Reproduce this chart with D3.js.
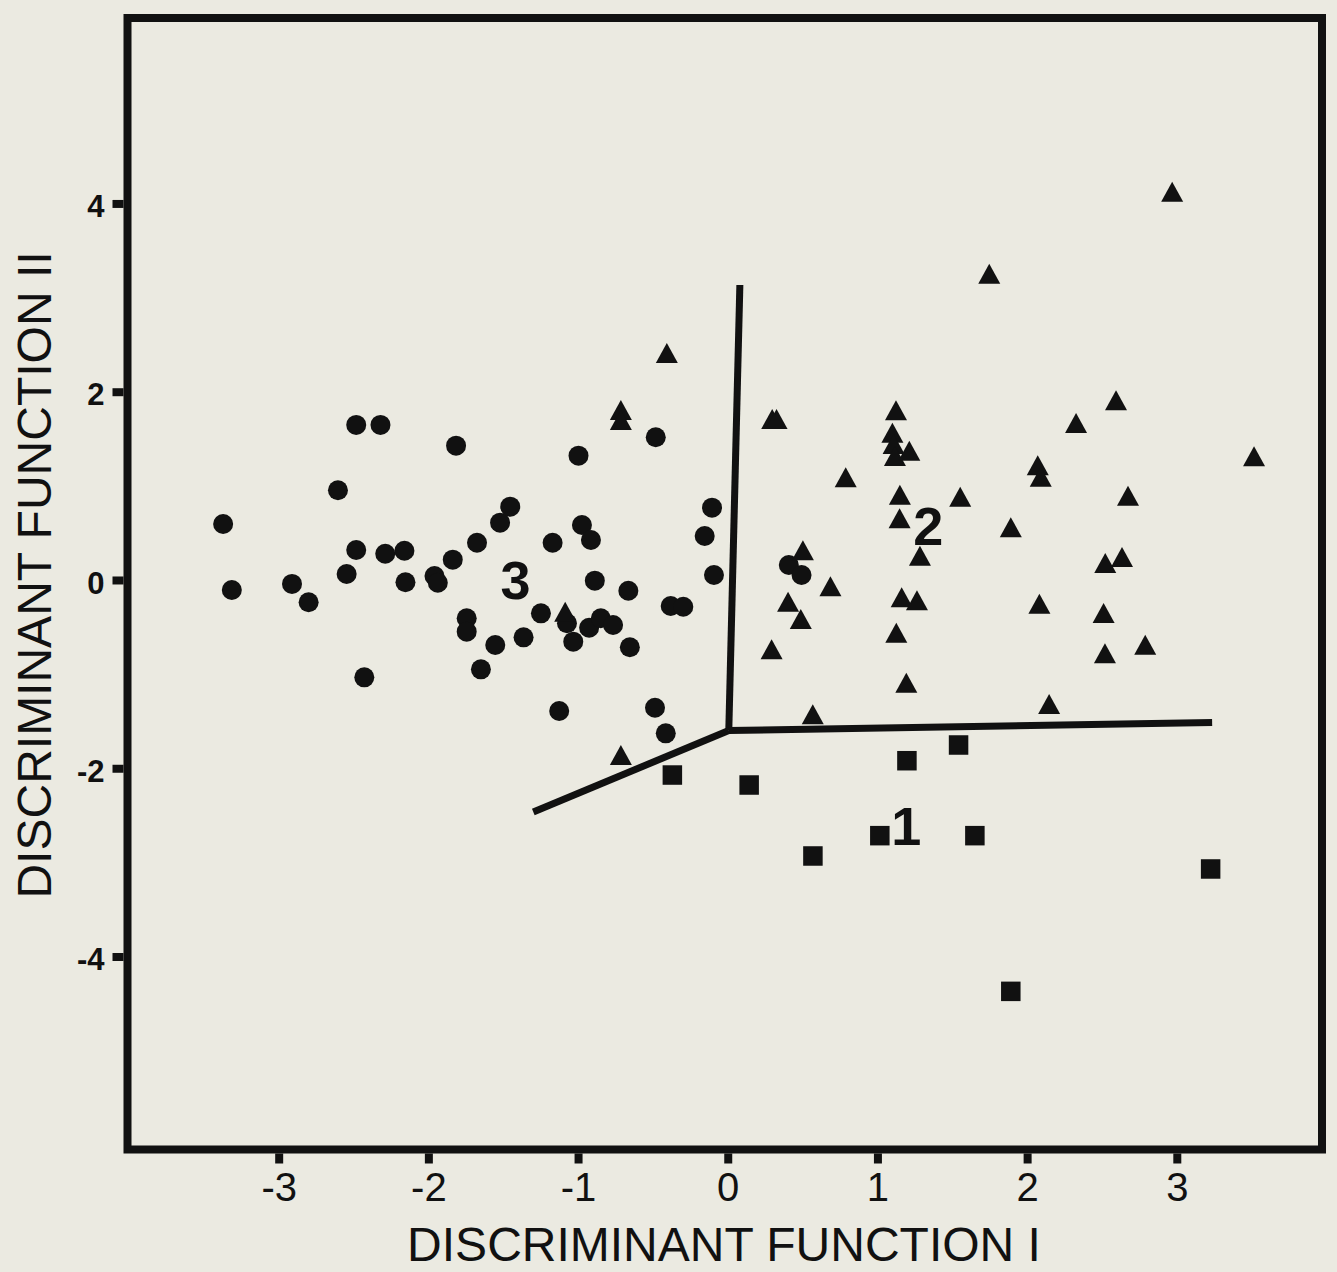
<!DOCTYPE html>
<html>
<head>
<meta charset="utf-8">
<script src="https://cdn.jsdelivr.net/npm/d3@7"></script>
<style>
    body { margin: 0; background: #ebeae1; }
    svg { display: block; }
    text { font-family: "Liberation Sans", Arial, Helvetica, sans-serif; fill: #111; }
</style>
</head>
<body>
<div id="chart"></div>
<script>
// Group 3 (circles) - [function I, function II]
const group3 = [
    [-3.371, 0.595], [-3.313, -0.106], [-2.911, -0.042], [-2.800, -0.237], [-2.604, 0.953],
    [-2.546, 0.064], [-2.482, 0.319], [-2.482, 1.647], [-2.320, 1.647], [-2.428, -1.034],
    [-2.288, 0.279], [-2.160, 0.311], [-2.153, -0.024], [-1.959, 0.042], [-1.937, -0.029],
    [-1.837, 0.216], [-1.815, 1.427], [-1.675, 0.396], [-1.744, -0.407], [-1.744, -0.549],
    [-1.649, -0.949], [-1.553, -0.691], [-1.521, 0.609], [-1.453, 0.779], [-1.364, -0.609],
    [-1.248, -0.354], [-1.170, 0.396], [-1.126, -1.392], [-1.074, -0.460], [-1.032, -0.655],
    [-0.997, 1.321], [-0.974, 0.584], [-0.914, 0.425], [-0.888, -0.007], [-0.926, -0.507],
    [-0.848, -0.407], [-0.766, -0.478], [-0.664, -0.114], [-0.654, -0.715], [-0.481, 1.516],
    [-0.486, -1.357], [-0.414, -1.629], [-0.381, -0.276], [-0.297, -0.284], [-0.154, 0.467],
    [-0.105, 0.768], [-0.092, 0.053], [0.408, 0.159], [0.493, 0.053]
];

// Group 2 (triangles)
const group2 = [
    [-0.407, 2.412], [-0.714, 1.806], [-0.714, 1.700], [-1.086, -0.337], [-0.714, -1.859],
    [0.297, 1.710], [0.326, 1.710], [1.124, 1.803], [1.100, 1.565], [1.108, 1.445],
    [1.117, 1.317], [1.213, 1.374], [0.788, 1.091], [1.150, 0.906], [1.553, 0.885],
    [1.148, 0.655], [1.284, 0.258], [0.502, 0.316], [0.686, -0.067], [0.403, -0.231],
    [0.488, -0.414], [1.162, -0.184], [1.264, -0.216], [1.126, -0.560], [0.293, -0.736],
    [1.193, -1.091], [0.568, -1.427], [2.594, 1.909], [2.327, 1.668], [3.516, 1.314],
    [2.071, 1.219], [2.091, 1.097], [2.674, 0.896], [1.891, 0.560], [2.634, 0.244],
    [2.522, 0.181], [2.082, -0.252], [2.511, -0.351], [2.789, -0.687], [2.520, -0.779],
    [2.147, -1.317], [2.969, 4.125], [1.747, 3.254]
];

// Group 1 (squares)
const group1 = [
    [-0.370, -2.072], [0.143, -2.178], [1.197, -1.920], [1.542, -1.753], [1.016, -2.716],
    [0.569, -2.932], [1.651, -2.716], [3.226, -3.070], [1.891, -4.370]
];

// Territorial boundaries (meet at the centre point)
const boundaryCentre = [0.007, -1.599];
const boundaryEnds = [[0.081, 3.134], [3.236, -1.514], [-1.299, -2.465]];

// Group centroid labels
const groupLabels = [
    { text: "3", x: -1.417, y: 0.0 },
    { text: "2", x: 1.340, y: 0.579 },
    { text: "1", x: 1.192, y: -2.613 }
];

const xTicks = [-3, -2, -1, 0, 1, 2, 3];
const yTicks = [-4, -2, 0, 2, 4];
const xTitle = "DISCRIMINANT FUNCTION I";
const yTitle = "DISCRIMINANT FUNCTION II";

const width = 1337, height = 1272;
const ink = "#111";

const svg = d3.select("#chart").append("svg")
    .attr("width", width)
    .attr("height", height);

svg.append("rect")
    .attr("width", width)
    .attr("height", height)
    .attr("fill", "#ebeae1");

const x = d3.scaleLinear().domain([-4.01, 3.97]).range([127.5, 1322]);
const y = d3.scaleLinear().domain([-6.05, 5.97]).range([1149.5, 18]);

// Frame
svg.append("rect")
    .attr("x", x.range()[0])
    .attr("y", y.range()[1])
    .attr("width", x.range()[1] - x.range()[0])
    .attr("height", y.range()[0] - y.range()[1])
    .attr("fill", "none")
    .attr("stroke", ink)
    .attr("stroke-width", 8);

// X axis
const xAxis = svg.append("g")
    .attr("transform", `translate(0,${y.range()[0] + 4})`)
    .call(d3.axisBottom(x).tickValues(xTicks).tickSize(10).tickFormat(d => d));
xAxis.select(".domain").remove();
xAxis.selectAll("line").attr("stroke", ink).attr("stroke-width", 8);
xAxis.selectAll("text")
    .attr("y", 47)
    .attr("dy", null)
    .attr("font-size", 40)
    .attr("fill", ink);

// Y axis
const yAxis = svg.append("g")
    .attr("transform", `translate(${x.range()[0] - 4},0)`)
    .call(d3.axisLeft(y).tickValues(yTicks).tickSize(11).tickFormat(d => d));
yAxis.select(".domain").remove();
yAxis.selectAll("line").attr("stroke", ink).attr("stroke-width", 8);
yAxis.selectAll("text")
    .attr("x", -19)
    .attr("dy", "0.42em")
    .attr("font-size", 31)
    .attr("font-weight", "bold")
    .attr("fill", ink);

// Axis titles
svg.append("text")
    .attr("x", 724)
    .attr("y", 1261)
    .attr("text-anchor", "middle")
    .attr("font-size", 48)
    .text(xTitle);

svg.append("text")
    .attr("transform", `translate(51,${575}) rotate(-90)`)
    .attr("text-anchor", "middle")
    .attr("font-size", 48)
    .text(yTitle);

// Boundary lines
svg.append("g")
    .selectAll("line")
    .data(boundaryEnds)
    .join("line")
    .attr("x1", x(boundaryCentre[0]))
    .attr("y1", y(boundaryCentre[1]))
    .attr("x2", d => x(d[0]))
    .attr("y2", d => y(d[1]))
    .attr("stroke", ink)
    .attr("stroke-width", 7)
    .attr("stroke-linecap", "butt");

// Points
svg.append("g")
    .selectAll("circle")
    .data(group3)
    .join("circle")
    .attr("cx", d => x(d[0]))
    .attr("cy", d => y(d[1]))
    .attr("r", 10)
    .attr("fill", ink);

const tri = "M0,-10L11,10L-11,10Z";
svg.append("g")
    .selectAll("path")
    .data(group2)
    .join("path")
    .attr("d", tri)
    .attr("transform", d => `translate(${x(d[0])},${y(d[1])})`)
    .attr("fill", ink);

const sq = 19.5;
svg.append("g")
    .selectAll("rect")
    .data(group1)
    .join("rect")
    .attr("x", d => x(d[0]) - sq / 2)
    .attr("y", d => y(d[1]) - sq / 2)
    .attr("width", sq)
    .attr("height", sq)
    .attr("fill", ink);

// Group numbers
svg.append("g")
    .selectAll("text")
    .data(groupLabels)
    .join("text")
    .attr("x", d => x(d.x))
    .attr("y", d => y(d.y))
    .attr("dy", "0.36em")
    .attr("text-anchor", "middle")
    .attr("font-size", 54)
    .attr("font-weight", "bold")
    .text(d => d.text);
</script>
</body>
</html>
